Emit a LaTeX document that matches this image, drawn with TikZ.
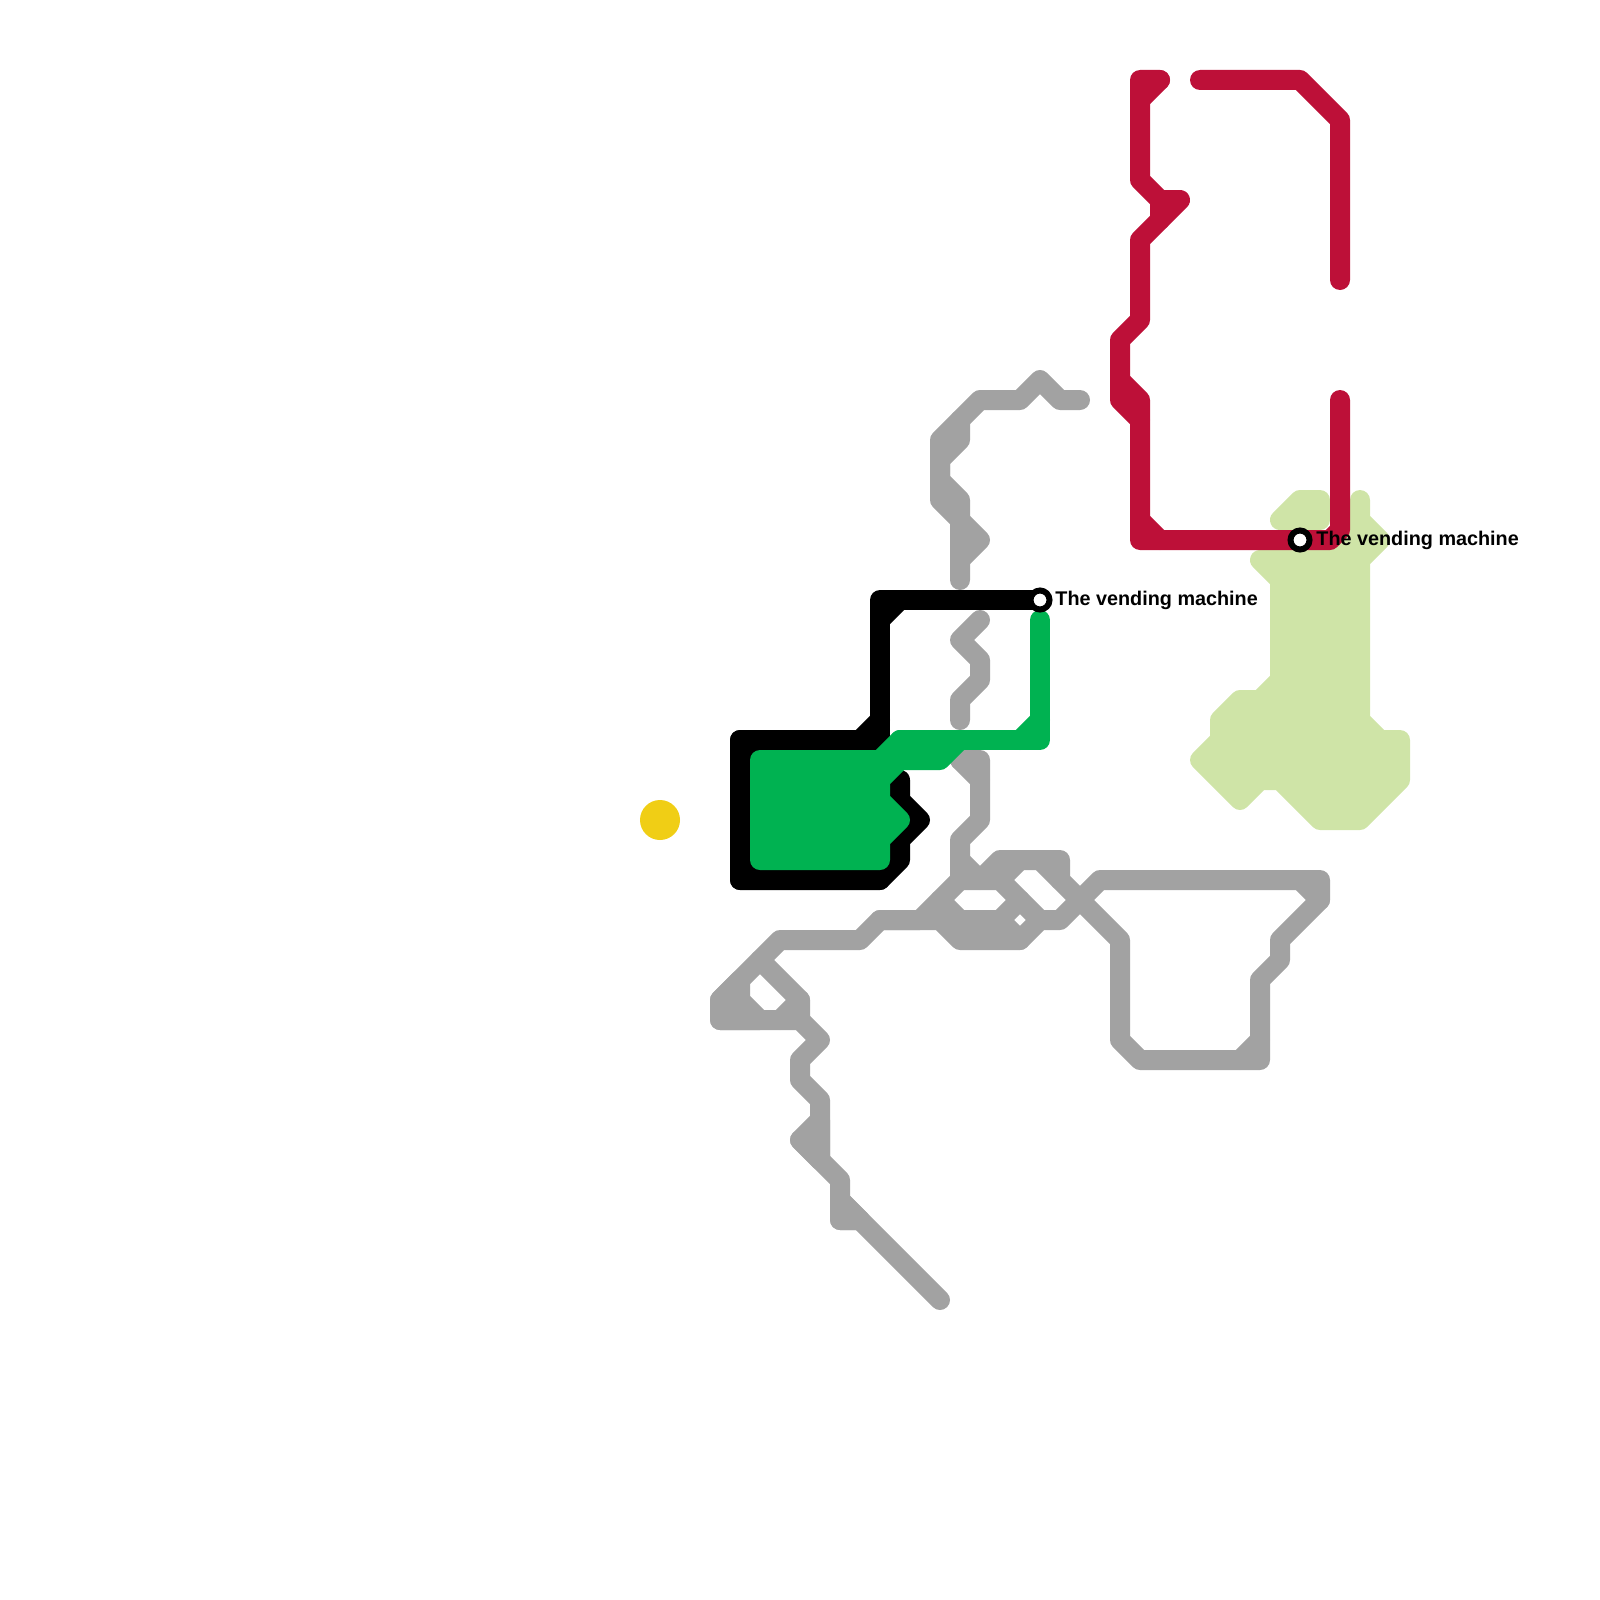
\documentclass[tikz,border=0pt]{standalone}
\usepackage{fontspec}
\setmainfont{Liberation Sans}
\usetikzlibrary{positioning}
\definecolor{redline}{RGB}{189,16,56}
\definecolor{limeline}{RGB}{207,228,167}
\definecolor{greenline}{RGB}{0,178,81}
\definecolor{greyline}{RGB}{162,162,162}
\definecolor{sunspot}{RGB}{240,206,21}

\begin{document}
\begin{tikzpicture}[x=0.5pt,y=-0.5pt,font=\bfseries\fontsize{9.9}{12}\selectfont]
\tikzset{route/.style={line width=10pt,line join=round,line cap=round},
  redroute/.style={route,draw=redline},limeroute/.style={route,draw=limeline,fill=limeline},
  greyroute/.style={route,draw=greyline},greyblock/.style={greyroute,fill=greyline},
  blackroute/.style={route,draw=black},blackblock/.style={blackroute,fill=black},greenroute/.style={route,draw=greenline},greenblock/.style={greenroute,fill=greenline},
  stop/.style={circle,draw=black,fill=white,line width=3pt,inner sep=0pt,minimum size=9.5pt},stoplabel/.style={inner sep=0pt,text=black}}
\useasboundingbox (0,0) rectangle (1600,1600);
\node[circle,fill=sunspot,inner sep=0pt,minimum size=20pt] (sun) at (660,820) {};
% lime
\draw[limeroute] (1260,560)--(1280,580)--(1280,680)--(1260,700)--(1240,700)--(1220,720)--(1220,740)--(1200,760)--(1240,800)--(1260,780)--(1280,780)--(1320,820)--(1360,820)--(1400,780)--(1400,740)--(1380,740)--(1360,720)--(1360,560)--(1380,540)--(1360,520)--(1360,500)--(1360,520)--(1340,520)--(1340,560)--cycle;
\draw[limeroute] (1280,520)--(1300,500)--(1320,500)--(1320,520)--cycle;
% grey
\draw[greyroute] (1080,400)--(1060,400)--(1040,380)--(1020,400)--(980,400)--(940,440)--(940,500)--(960,520)--(960,580);
\draw[greyroute] (960,420)--(960,440)--(940,460)--(940,480)--(960,500)--(960,520);
\draw[greyblock] (960,520)--(980,540)--(960,560)--cycle;
\draw[greyroute] (980,620)--(960,640)--(980,660)--(980,680)--(960,700)--(960,720);
\draw[greyroute] (960,760)--(980,780);
\draw[greyroute] (960,760)--(980,760)--(980,820)--(960,840)--(960,880)--(920,920)--(880,920)--(860,940)--(780,940)--(720,1000)--(720,1020)--(800,1020)--(820,1040)--(800,1060)--(800,1080)--(820,1100)--(820,1160);
\draw[greyblock] (820,1120)--(800,1140)--(820,1160)--cycle;
\draw[greyroute] (800,1140)--(840,1180)--(840,1220)--(860,1220);
\draw[greyblock] (840,1200)--(860,1220)--(840,1220)--cycle;
\draw[greyroute] (840,1200)--(940,1300);
\draw[greyblock] (720,1000)--(740,980)--(740,1000)--(760,1020)--(720,1020)--cycle;
\draw[greyroute] (760,960)--(800,1000)--(800,1020);\draw[greyroute] (780,1020)--(800,1000);
\draw[greyroute] (960,860)--(980,880)--(1000,860)--(1060,860)--(1060,880)--(1120,940)--(1120,1040)--(1140,1060)--(1260,1060)--(1260,980)--(1280,960)--(1280,940)--(1320,900)--(1320,880)--(1100,880)--(1060,920)--(1040,920)--(1020,940)--(960,940)--(940,920)--(880,920);
\draw[greyroute] (960,880)--(1000,880)--(1040,920);\draw[greyroute] (1000,920)--(960,920)--(940,900);
\draw[greyroute] (1020,860)--(1000,880);\draw[greyroute] (1020,900)--(1000,920)--(1020,940);\draw[greyroute] (1040,860)--(1060,880);
\draw[greyroute] (1240,1060)--(1260,1040);\draw[greyroute] (1300,880)--(1320,900);
% red
\draw[redroute] (1160,80)--(1140,80)--(1140,180)--(1160,200)--(1180,200)--(1140,240)--(1140,320)--(1120,340)--(1120,400)--(1140,420)--(1140,540)--(1330,540)--(1340,530)--(1340,400);
\draw[redroute] (1160,80)--(1140,100);\draw[redroute] (1160,200)--(1160,220);\draw[redroute] (1120,380)--(1140,400)--(1140,420);\draw[redroute] (1140,520)--(1160,540);
\draw[redroute] (1200,80)--(1300,80)--(1340,120)--(1340,280);
% black
\draw[blackblock] (740,740) rectangle (880,880);
\draw[blackroute] (1040,600)--(880,600)--(880,750);
\draw[blackroute] (880,720)--(860,740)--(740,740)--(740,880)--(880,880)--(900,860)--(900,840)--(920,820)--(900,800)--(900,780)--(880,800);
\draw[blackroute] (880,620)--(900,600);
% green
\draw[greenblock] (760,760)--(880,760)--(900,740)--(900,760)--(880,780)--(880,800)--(900,820)--(880,840)--(880,860)--(760,860)--cycle;
\draw[greenroute] (1040,620)--(1040,740)--(900,740);
\draw[greenroute] (1040,720)--(1020,740);
\draw[greenroute] (900,760)--(940,760)--(960,740);
% stops
\node[stop] (vendingblack) at (1040,600) {};
\node[stop] (vendingred) at (1300,540) {};
\node[stoplabel,right=7.5pt of vendingblack.center,anchor=west] (labelblack) {The vending machine};
\node[stoplabel,right=8pt of vendingred.center,anchor=west] (labelred) {The vending machine};
\end{tikzpicture}
\end{document}
